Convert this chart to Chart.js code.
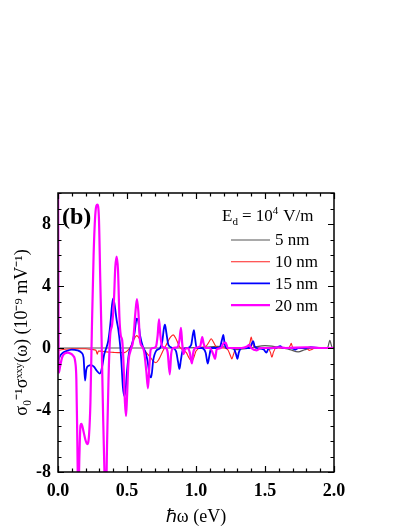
<!DOCTYPE html>
<html>
<head>
<meta charset="utf-8">
<script src="https://cdn.jsdelivr.net/npm/chart.js@4/dist/chart.umd.min.js"></script>
<style>
  body { margin: 0; background: #fff; }
  #wrap { width: 409px; height: 529px; }
</style>
</head>
<body>
<div id="wrap"><canvas id="hallChart" width="409" height="529"></canvas></div>
<script>
// photon energy (eV) and response for each well width
const energy5 = [0, 0.5, 0.9, 1.0, 1.08, 1.15, 1.22, 1.3, 1.36, 1.42, 1.5, 1.55, 1.62, 1.68, 1.74, 1.79, 1.85, 1.92, 1.955, 1.97, 1.98, 1.99, 2.0];
const sigma5  = [0, 0, 0, 0.02, 0.06, 0.1, 0.05, -0.1, -0.05, 0.05, 0.15, 0.12, 0, -0.1, -0.25, -0.1, 0, 0, 0.05, 0.5, 0.2, 0, 0];

const energy10 = [0, 0.05, 0.1, 0.15, 0.2, 0.25, 0.275, 0.285, 0.292, 0.31, 0.35, 0.4, 0.45, 0.48, 0.5, 0.52, 0.545, 0.57, 0.59, 0.61,
  0.64, 0.67, 0.69, 0.71, 0.73, 0.76, 0.79, 0.815, 0.835, 0.855, 0.88, 0.9, 0.93, 0.95, 0.97, 0.985, 1.0, 1.04, 1.07, 1.095,
  1.11, 1.125, 1.15, 1.2, 1.23, 1.25, 1.26, 1.272, 1.29, 1.37, 1.39, 1.4, 1.41, 1.43, 1.52, 1.54, 1.55, 1.56, 1.58, 1.67,
  1.685, 1.69, 1.7, 1.72, 1.8, 1.82, 1.84, 1.86, 2.0];
const sigma10 = [-0.15, -0.08, -0.05, -0.05, -0.05, -0.1, -0.15, -0.4, -0.2, -0.2, -0.25, -0.28, -0.3, -0.3, -0.2, 0, 0.45, 0.8, 0.6, 0.1,
  -0.3, -0.6, -0.85, -0.95, -0.75, -0.2, 0.3, 0.7, 0.85, 0.6, 0.1, -0.1, -0.3, -0.65, -0.85, -0.6, -0.2, 0.05, 0.1, 0.4,
  0.6, 0.4, 0.05, 0, -0.1, -0.5, -0.7, -0.4, 0, 0, 0.3, 0.7, 0.3, 0, 0, -0.3, -0.6, -0.3, 0, 0,
  0.2, 0.3, 0.05, 0, 0, -0.15, -0.1, 0, 0];

const energy15 = [0, 0.01, 0.03, 0.06, 0.1, 0.14, 0.17, 0.185, 0.196, 0.205, 0.22, 0.24, 0.26, 0.28, 0.303, 0.32, 0.335, 0.35, 0.365, 0.38,
  0.392, 0.4, 0.41, 0.425, 0.437, 0.45, 0.46, 0.47, 0.48, 0.49, 0.5, 0.515, 0.535, 0.555, 0.57, 0.58, 0.595, 0.615, 0.635, 0.65,
  0.665, 0.675, 0.69, 0.71, 0.74, 0.755, 0.768, 0.775, 0.785, 0.8, 0.83, 0.855, 0.87, 0.88, 0.89, 0.905, 0.94, 0.965, 0.978, 0.985,
  0.992, 1.005, 1.04, 1.07, 1.085, 1.095, 1.11, 1.17, 1.19, 1.198, 1.207, 1.22, 1.27, 1.29, 1.3, 1.31, 1.33, 1.39, 1.405, 1.415,
  1.425, 1.44, 1.49, 1.51, 1.525, 1.58, 1.61, 1.63, 1.69, 1.72, 1.74, 1.8, 1.83, 1.9, 2.0];
const sigma15 = [-0.9, -0.6, -0.35, -0.2, -0.1, -0.15, -0.3, -0.6, -2.1, -1.4, -1.15, -1.1, -1.2, -1.45, -1.65, -1.2, -0.4, 0, 0.5, 1.6,
  2.8, 3.2, 2.8, 1.8, 1.2, 0.2, -1, -2.5, -3.1, -2.7, -1.5, -0.3, 0.2, 1.0, 1.9, 1.8, 0.8, 0.1, -0.3, -0.9,
  -1.8, -1.9, -0.8, -0.2, 0, 0.4, 1.3, 1.5, 1.0, 0.2, 0, -0.2, -0.9, -1.35, -0.8, -0.1, 0, 0.2, 0.9, 1.15,
  0.7, 0, 0, -0.3, -1.0, -0.6, 0, 0, 0.6, 0.85, 0.3, 0, 0, -0.4, -0.7, -0.3, 0, 0, 0.3, 0.45,
  0.1, 0, -0.1, -0.3, -0.05, 0, 0.12, 0, 0, -0.1, 0, 0, 0.05, 0, 0];

const energy20 = [0, 0.006, 0.015, 0.03, 0.05, 0.07, 0.09, 0.11, 0.125, 0.133, 0.14, 0.147, 0.155, 0.163, 0.17, 0.183, 0.198, 0.212, 0.225, 0.235,
  0.245, 0.258, 0.272, 0.285, 0.296, 0.306, 0.316, 0.326, 0.338, 0.347, 0.356, 0.366, 0.378, 0.392, 0.405, 0.415, 0.425, 0.435, 0.445, 0.455,
  0.465, 0.475, 0.485, 0.493, 0.5, 0.51, 0.525, 0.545, 0.56, 0.572, 0.582, 0.595, 0.61, 0.625, 0.64, 0.652, 0.662, 0.672, 0.69, 0.71,
  0.722, 0.732, 0.742, 0.755, 0.78, 0.795, 0.81, 0.82, 0.835, 0.865, 0.88, 0.891, 0.9, 0.91, 0.92, 0.94, 0.955, 0.97, 0.98, 0.995,
  1.03, 1.045, 1.055, 1.07, 1.1, 1.125, 1.138, 1.15, 1.18, 1.2, 1.215, 1.23, 1.27, 1.33, 1.37, 1.385, 1.4, 1.44, 1.47, 1.55,
  1.6, 1.65, 1.8, 1.9, 2.0];
const sigma20 = [12, -1.6, -1.2, -0.6, -0.35, -0.3, -0.35, -0.5, -0.9, -2.0, -6, -10, -7, -5.0, -4.9, -5.3, -5.9, -6.2, -5.6, -3.5,
  1.0, 6.0, 8.8, 9.25, 8.5, 4.5, 0.5, -4, -8.5, -10, -6, -2, 0.8, 1.5, 3.0, 5.2, 5.9, 5.0, 2.0, 0.8,
  0.5, -1, -3.5, -4.4, -3.2, -1, -0.2, 0.5, 2.2, 3.15, 2.4, 0.4, 0.1, -0.3, -1.5, -2.6, -1.2, -0.1, 0, 0.1,
  0.8, 1.85, 0.8, 0.1, 0, -0.3, -1.7, -0.4, 0, 0.05, 0.5, 1.3, 0.3, -0.4, -0.1, 0, -0.3, -1.0, -0.3, 0,
  0.1, 0.7, 0.3, 0, 0, -0.4, -0.7, -0.1, 0, 0.3, 0.35, 0, 0, 0, 0.1, 0.2, 0, -0.15, 0, 0,
  0.05, 0, 0.05, 0, 0];

const seriesLabels = ['5 nm', '10 nm', '15 nm', '20 nm'];
const xTicks = [0, 0.5, 1.0, 1.5, 2.0];
const yTicks = [-8, -4, 0, 4, 8];

const serif = "'Liberation Serif', 'Times New Roman', serif";

function toPoints(xs, ys) {
    return xs.map((x, i) => ({ x: x, y: ys[i] }));
}

// frame, inward ticks, panel label and legend
const framePlugin = {
    id: 'frame',
    afterDraw(chart) {
        const ctx = chart.ctx;
        const a = chart.chartArea;
        const xs = chart.scales.x;
        const ys = chart.scales.y;
        ctx.save();
        ctx.strokeStyle = '#000';
        ctx.lineWidth = 1.5;
        ctx.strokeRect(a.left, a.top, a.right - a.left, a.bottom - a.top);

        ctx.lineWidth = 1.2;
        ctx.beginPath();
        for (let i = 0; i <= 20; i++) {
            const v = i / 10;
            const px = Math.round(xs.getPixelForValue(v)) + 0.5;
            const len = (i % 5 === 0) ? 6 : 3.5;
            ctx.moveTo(px, a.bottom); ctx.lineTo(px, a.bottom - len);
            ctx.moveTo(px, a.top); ctx.lineTo(px, a.top + len);
        }
        for (let v = -8; v <= 10; v++) {
            const py = Math.round(ys.getPixelForValue(v)) + 0.5;
            const len = (v % 4 === 0) ? 6 : 3.5;
            ctx.moveTo(a.left, py); ctx.lineTo(a.left + len, py);
            ctx.moveTo(a.right, py); ctx.lineTo(a.right - len, py);
        }
        ctx.stroke();

        // panel label
        ctx.fillStyle = '#000';
        ctx.textBaseline = 'middle';
        ctx.textAlign = 'left';
        ctx.font = 'bold 24px ' + serif;
        ctx.fillText('(b)', 62, 218);

        // legend title E_d = 10^4 V/m
        ctx.font = '17px ' + serif;
        let x = 222;
        const ty = 221;
        ctx.textBaseline = 'alphabetic';
        ctx.fillText('E', x, ty); x += ctx.measureText('E').width;
        ctx.font = '11px ' + serif;
        ctx.fillText('d', x, ty + 4); x += ctx.measureText('d').width + 4;
        ctx.font = '17px ' + serif;
        ctx.fillText('= 10', x, ty); x += ctx.measureText('= 10').width;
        ctx.font = '11px ' + serif;
        ctx.fillText('4', x, ty - 7); x += ctx.measureText('4').width + 5;
        ctx.font = '17px ' + serif;
        ctx.fillText('V/m', x, ty);

        // legend items
        ctx.textBaseline = 'middle';
        chart.data.datasets.forEach((ds, i) => {
            const ly = 240 + i * 21.7;
            ctx.strokeStyle = ds.borderColor;
            ctx.lineWidth = ds.borderWidth;
            ctx.beginPath();
            ctx.moveTo(231, ly); ctx.lineTo(270, ly);
            ctx.stroke();
            ctx.font = '17px ' + serif;
            ctx.fillStyle = '#000';
            ctx.fillText(ds.label, 275, ly + 1);
        });
        ctx.restore();
    }
};

const ctx = document.getElementById('hallChart').getContext('2d');
const hallChart = new Chart(ctx, {
    type: 'line',
    data: {
        datasets: [{
            label: seriesLabels[0],
            data: toPoints(energy5, sigma5),
            borderColor: '#555555',
            borderWidth: 1.2,
            order: 4
        },
        {
            label: seriesLabels[1],
            data: toPoints(energy10, sigma10),
            borderColor: '#ff2020',
            borderWidth: 1.1,
            order: 3
        },
        {
            label: seriesLabels[2],
            data: toPoints(energy15, sigma15),
            borderColor: '#0000ff',
            borderWidth: 1.8,
            order: 2
        },
        {
            label: seriesLabels[3],
            data: toPoints(energy20, sigma20),
            borderColor: '#ff00ff',
            borderWidth: 2.2,
            order: 1
        }]
    },
    options: {
        responsive: false,
        animation: false,
        events: [],
        layout: { padding: { top: 193, right: 75, left: 0, bottom: 0 } },
        elements: {
            point: { radius: 0 },
            line: { cubicInterpolationMode: 'monotone', fill: false }
        },
        plugins: {
            legend: { display: false },
            tooltip: { enabled: false }
        },
        scales: {
            x: {
                type: 'linear',
                min: 0,
                max: 2,
                grid: { display: false, drawTicks: false },
                border: { display: false },
                afterFit: s => { s.height = 57; },
                afterBuildTicks: s => { s.ticks = xTicks.map(v => ({ value: v })); },
                ticks: {
                    padding: 9,
                    color: '#000',
                    font: { family: serif, size: 18, weight: 'bold' },
                    callback: v => Number(v).toFixed(1)
                },
                title: {
                    display: true,
                    text: 'ℏω (eV)',
                    color: '#000',
                    font: { family: serif, size: 18 },
                    padding: { top: 0, bottom: 1 }
                }
            },
            y: {
                type: 'linear',
                min: -8,
                max: 10,
                grid: { display: false, drawTicks: false },
                border: { display: false },
                afterFit: s => { s.width = 58; },
                afterBuildTicks: s => { s.ticks = yTicks.map(v => ({ value: v })); },
                ticks: {
                    padding: 7,
                    color: '#000',
                    font: { family: serif, size: 18, weight: 'bold' }
                },
                title: {
                    display: true,
                    text: 'σ₀⁻¹σˣˣʸ(ω) (10⁻⁹ mV⁻¹)',
                    color: '#000',
                    font: { family: serif, size: 18 },
                    padding: { top: 11, bottom: 0 }
                }
            }
        }
    },
    plugins: [framePlugin]
});
</script>
</body>
</html>
